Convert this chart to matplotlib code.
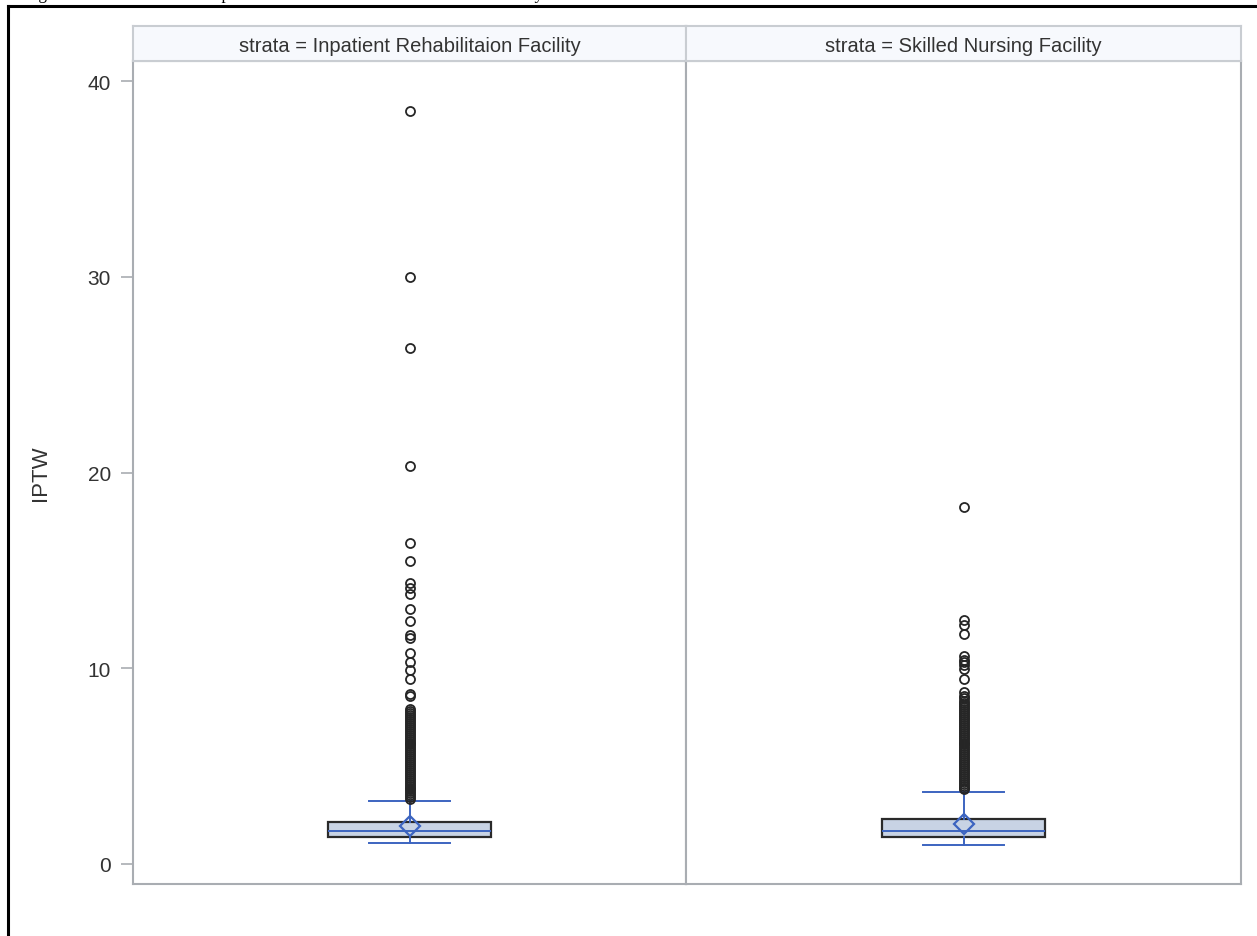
import numpy as np
import matplotlib
matplotlib.use('Agg')
import matplotlib.pyplot as plt
from matplotlib.lines import Line2D

plt.rcParams['font.family'] = ['Liberation Sans', 'DejaVu Sans']

strata = ['Inpatient Rehabilitaion Facility', 'Skilled Nursing Facility']

# box statistics
q1 = [1.38, 1.38]
med = [1.69, 1.69]
q3 = [2.15, 2.30]
whislo = [1.07, 0.97]
whishi = [3.22, 3.68]
means = [1.94, 2.04]

# outliers, IRF
fliers_irf = [38.5, 30.0, 26.35, 20.35, 16.4, 15.5, 14.35, 14.1, 13.8, 13.0, 12.4,
              11.7, 11.55, 10.8, 10.3, 9.9, 9.45, 8.7, 8.6, 7.9, 7.8, 7.7, 7.6, 7.5,
              7.4, 7.3, 7.2, 7.1, 7.0, 6.9, 6.8, 6.7, 6.6, 6.5, 6.4, 6.3, 6.2, 6.1,
              6.0, 5.9, 5.8, 5.7, 5.6, 5.5, 5.4, 5.3, 5.2, 5.1, 5.0, 4.9, 4.8, 4.7,
              4.6, 4.5, 4.4, 4.3, 4.2, 4.1, 4.0, 3.9, 3.8, 3.7, 3.6, 3.5, 3.4, 3.3]
# outliers, SNF
fliers_snf = [18.25, 12.45, 12.2, 11.75, 10.6, 10.4, 10.3, 10.15, 9.95, 9.45, 8.8,
              8.6, 8.5, 8.3, 8.2, 8.1, 8.0, 7.9, 7.8, 7.7, 7.6, 7.5, 7.4, 7.3, 7.2,
              7.1, 7.0, 6.9, 6.8, 6.7, 6.6, 6.5, 6.4, 6.3, 6.2, 6.1, 6.0, 5.9, 5.8,
              5.7, 5.6, 5.5, 5.4, 5.3, 5.2, 5.1, 5.0, 4.9, 4.8, 4.7, 4.6, 4.5, 4.4,
              4.3, 4.2, 4.1, 4.0, 3.9, 3.8]
fliers = [fliers_irf, fliers_snf]

yticks = [0, 10, 20, 30, 40]

W, H = 1257, 937
fig = plt.figure(figsize=(W / 100, H / 100), dpi=100)

def fx(px):
    return px / W

def fy(py):
    return 1 - py / H

blue = '#3C64C0'
grid_gray = '#A9ADB2'
panels = [(133, 686), (686, 1241)]
top, bot, strip_top = 62, 885, 27

for i, (x0, x1) in enumerate(panels):
    ax = fig.add_axes([fx(x0), fy(bot), fx(x1 - x0), fy(top) - fy(bot)])
    st = [dict(med=med[i], q1=q1[i], q3=q3[i], whislo=whislo[i], whishi=whishi[i],
               mean=means[i], fliers=fliers[i])]
    ax.bxp(st, positions=[0], widths=0.295, capwidths=0.145, showmeans=True,
           patch_artist=True,
           boxprops=dict(facecolor='#C8D3E4', edgecolor='#2A2A2A', linewidth=1.6),
           medianprops=dict(color=blue, linewidth=1.4),
           whiskerprops=dict(color=blue, linewidth=1.4),
           capprops=dict(color=blue, linewidth=1.4),
           meanprops=dict(marker='D', markerfacecolor='none', markeredgecolor=blue,
                          markeredgewidth=1.6, markersize=10.5),
           flierprops=dict(marker='o', markerfacecolor='none', markeredgecolor='#262626',
                           markeredgewidth=1.3, markersize=6.5))
    ax.set_xlim(-0.5, 0.5)
    ax.set_ylim(-1.03, 41.03)
    ax.set_xticks([])
    for s in ax.spines.values():
        s.set_color(grid_gray)
        s.set_linewidth(1.5)
    if i == 0:
        ax.set_yticks(yticks)
        ax.tick_params(axis='y', length=9, width=1.2, color=grid_gray, labelsize=15,
                       labelcolor='#333333', pad=7)
        ax.set_ylabel('IPTW', fontsize=16, color='#333333', labelpad=26)
    else:
        ax.set_yticks([])

    # strip header
    sx = fig.add_axes([fx(x0), fy(top), fx(x1 - x0), fy(strip_top) - fy(top)])
    sx.set_facecolor('#F7F9FD')
    sx.set_xticks([])
    sx.set_yticks([])
    for s in sx.spines.values():
        s.set_color('#C9CDD2')
        s.set_linewidth(1.5)
    sx.text(0.5, 0.45, 'strata = ' + strata[i], ha='center', va='center',
            fontsize=14.5, color='#333333', transform=sx.transAxes)

# frame lines of the page
fig.add_artist(Line2D([fx(8), fx(8)], [fy(7), 0], color='black', linewidth=2.2))
fig.add_artist(Line2D([fx(8), 1], [fy(7), fy(7)], color='black', linewidth=2.2))
# caption cut off above the frame, as in the source page
fig.text(fx(24), fy(-1),
         'Figure 2. Distribution of boxplot of the final IPTW distribution stratified by strata',
         family='Liberation Serif', fontsize=12.3, va='baseline', ha='left')

fig.savefig('out.png', dpi=100)
